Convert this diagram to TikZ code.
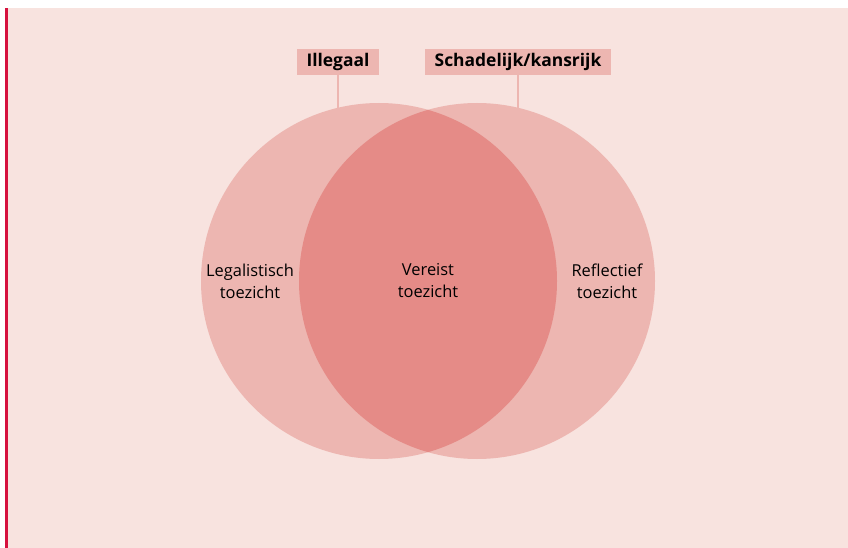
\documentclass[tikz,border=0pt]{standalone}
\usepackage{fontspec}
\setmainfont{Open Sans}
\definecolor{panelbg}{RGB}{248, 227, 223}
\definecolor{barred}{RGB}{214, 17, 62}
\definecolor{setpink}{RGB}{237, 182, 177}
\definecolor{corepink}{RGB}{229, 139, 135}
\usetikzlibrary{positioning, calc}

\tikzset{
  tagbox/.style={fill=setpink, inner xsep=10bp, inner ysep=3bp, minimum height=26bp, font=\fontsize{17.5}{20}\selectfont\bfseries},
  setlabel/.style={align=center, font=\fontsize{16.5}{22}\selectfont},
  tagline/.style={draw=setpink, line width=2bp}
}

\begin{document}
\begin{tikzpicture}[x=1bp, y=-1bp]
  % Panel
  \useasboundingbox (0, 0) rectangle (848, 548);
  \fill[panelbg] (5, 8) rectangle (848, 548);
  \fill[barred] (5, 8) rectangle (7.5, 548);

  % Tags and their leaders
  \node[tagbox] (illegaal) at (338, 62) {Illegaal};
  \node[tagbox] (schadelijk) at (518, 62) {Schadelijk/kansrijk};
  \coordinate (illegaaltip) at (338, 110);
  \coordinate (schadelijktip) at (518, 110);
  \draw[tagline] (illegaal.south) -- (illegaaltip);
  \draw[tagline] (schadelijk.south) -- (schadelijktip);

  % The two sets
  \fill[setpink] (379, 281) circle[radius=178];
  \fill[setpink] (477, 281) circle[radius=178];
  \begin{scope}
    \clip (379, 281) circle[radius=178];
    \fill[corepink] (477, 281) circle[radius=178];
  \end{scope}

  % Labels
  \node[setlabel] (legalistisch) at (250, 281) {Legalistisch\\toezicht};
  \node[setlabel] (vereist) at (428, 281) {Vereist\\toezicht};
  \node[setlabel] (reflectief) at (607, 281) {Reflectief\\toezicht};
\end{tikzpicture}
\end{document}
